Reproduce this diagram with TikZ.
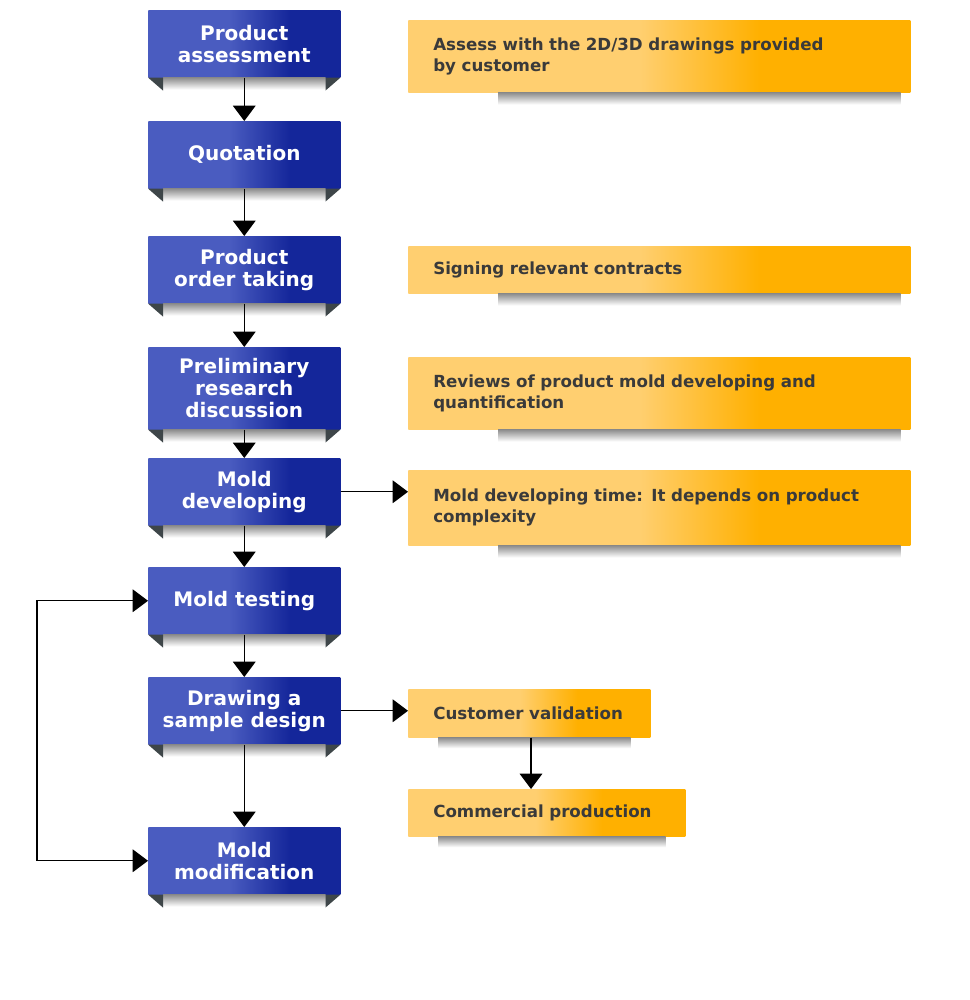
\documentclass[tikz,border=0pt]{standalone}
\usepackage{fontspec}
\setmainfont{DejaVu Sans}
\usetikzlibrary{arrows.meta}

\definecolor{blight}{HTML}{4A5CC0}
\definecolor{bdark}{HTML}{14269A}
\definecolor{ylight}{HTML}{FFCF70}
\definecolor{ydark}{HTML}{FFB000}
\definecolor{tabgray}{HTML}{3E4649}
\definecolor{txtgray}{HTML}{3A3A3A}

\pgfdeclarehorizontalshading{bluefade}{100bp}{color(0bp)=(blight); color(46bp)=(blight); color(62bp)=(bdark); color(100bp)=(bdark)}
\pgfdeclarehorizontalshading{yellowfade}{100bp}{color(0bp)=(ylight); color(48bp)=(ylight); color(60bp)=(ydark); color(100bp)=(ydark)}

\tikzset{
  stage/.style={anchor=north west, minimum width=144pt, minimum height=#1,
    inner sep=0pt, shading=bluefade, text=white, align=center,
    font=\bfseries\fontsize{15}{16.5}\selectfont},
  stage/.default=50.25pt,
  infobox/.style={anchor=north west, text width=#1, inner xsep=18.75pt,
    shading=yellowfade, text=txtgray, align=left,
    font=\bfseries\fontsize{12.5}{16}\selectfont},
  undershade/.style={top color=black!45, bottom color=white},
  arr/.style={-{Triangle[width=17pt,length=11.5pt]}, line width=0.9pt}
}

\begin{document}
\begin{tikzpicture}[x=0.75pt,y=-0.75pt]
\fill[white] (0,0) rectangle (970,1000);
\useasboundingbox (0,0) rectangle (970,1000);

% process steps
\node[stage] (assess) at (148,10) {Product\\assessment};
\node[stage] (quote) at (148,121) {Quotation};
\node[stage] (order) at (148,236) {Product\\order taking};
\node[stage=61.5pt] (research) at (148,347) {Preliminary\\research\\discussion};
\node[stage] (develop) at (148,458) {Mold\\developing};
\node[stage] (testing) at (148,567) {Mold testing};
\node[stage] (sample) at (148,677) {Drawing a\\sample design};
\node[stage] (modif) at (148,827) {Mold\\modification};

\foreach \n in {assess,quote,order,research,develop,testing,sample,modif} {
  \shade[undershade] ([xshift=11.25pt]\n.south west) rectangle ([xshift=-11.25pt,yshift=-9pt]\n.south east);
  \fill[tabgray] (\n.south west) -- ++(15,0) -- ++(0,13) -- cycle;
  \fill[tabgray] (\n.south east) -- ++(-15,0) -- ++(0,13) -- cycle;
}

% notes
\node[infobox=339pt, minimum height=54pt] (drawings) at (408,20)
  {Assess with the 2D/3D drawings provided\\by customer};
\node[infobox=339pt, minimum height=35.25pt] (contracts) at (408,246)
  {Signing relevant contracts};
\node[infobox=339pt, minimum height=54pt] (reviews) at (408,357)
  {Reviews of product mold developing and\\quantification};
\node[infobox=339pt, minimum height=56.25pt] (devtime) at (408,470)
  {Mold developing time: It depends on product\\complexity};
\node[infobox=144pt, minimum height=36pt] (valid) at (408,689)
  {Customer validation};
\node[infobox=170.25pt, minimum height=35.25pt] (commerce) at (408,789)
  {Commercial production};

\foreach \n in {drawings,contracts,reviews,devtime} {
  \shade[undershade] ([xshift=67.5pt]\n.south west) rectangle ([xshift=-7.5pt,yshift=-9pt]\n.south east);
}
\foreach \n in {valid,commerce} {
  \shade[undershade] ([xshift=22.5pt]\n.south west) rectangle ([xshift=-15pt,yshift=-8pt]\n.south east);
}

% connectors
\draw[arr] (assess) -- (quote);
\draw[arr] (quote) -- (order);
\draw[arr] (order) -- (research);
\draw[arr] (research) -- (develop);
\draw[arr] (develop) -- (testing);
\draw[arr] (testing) -- (sample);
\draw[arr] (sample) -- (modif);
\draw[arr] (develop.east) -- (develop.east -| devtime.west);
\draw[arr] (sample.east) -- (sample.east -| valid.west);
\draw[arr] (valid.south -| 531,0) -- (commerce.north -| 531,0);

\coordinate (loop) at (37,731);
\draw[arr] (loop) |- (testing.west);
\draw[arr] (loop) |- (modif.west);
\end{tikzpicture}
\end{document}
